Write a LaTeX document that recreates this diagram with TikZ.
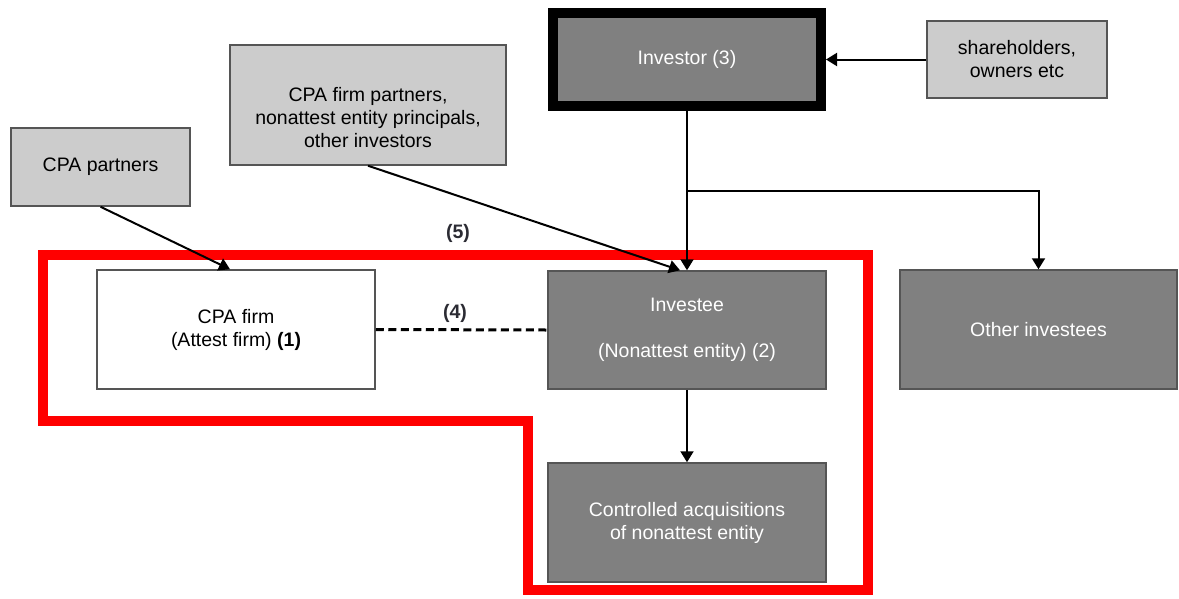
\documentclass[tikz,border=0pt]{standalone}
\usepackage{fontspec}
\setmainfont{Liberation Sans}
\usetikzlibrary{arrows.meta,calc}
\definecolor{lightbox}{HTML}{CCCCCC}
\definecolor{darkbox}{HTML}{808080}
\definecolor{boxline}{HTML}{555555}
\definecolor{redline}{HTML}{FF0000}
\definecolor{lbl}{HTML}{2B2B33}
\tikzset{
  base/.style={rectangle, inner sep=0pt, align=center, font=\fontsize{19.5}{23}\selectfont},
  lightnode/.style={base, fill=lightbox, draw=boxline, line width=1.5pt, text=black},
  darknode/.style={base, fill=darkbox, draw=boxline, line width=1.5pt, text=white},
  whitenode/.style={base, fill=white, draw=boxline, line width=1.5pt, text=black},
  txt/.style={base, text=black},
  arr/.style={line width=2pt, -{Triangle[length=11pt,width=13pt]}},
  dashline/.style={line width=3pt, dash pattern=on 8pt off 4.5pt},
  numlbl/.style={base, font=\fontsize{19.5}{23}\selectfont\bfseries, text=lbl},
  redframe/.style={draw=redline, line width=10pt, miter limit=10}
}
\begin{document}
\begin{tikzpicture}[x=1pt,y=-1pt]
\useasboundingbox (0,0) rectangle (1179,598);
% red outline
\draw[redframe] (43,255) -- (868,255) -- (868,590) -- (528,590) -- (528,421) -- (43,421) -- cycle;
% nodes
\node[darknode, draw=black, line width=10pt, minimum width=268pt, minimum height=93pt] (inv) at (687,59.5) {\raisebox{-2pt}{Investor (3)}};
\node[lightnode, minimum width=180pt, minimum height=77pt] (sh) at (1017,59.5) {shareholders,\\owners etc};
\node[lightnode, minimum width=276pt, minimum height=120pt] (cfp) at (368,105) {};
\node[txt] (cfpt) at (368,118) {CPA firm partners,\\nonattest entity principals,\\other investors};
\node[lightnode, minimum width=179pt, minimum height=78pt] (cp) at (100.5,167) {CPA partners};
\node[whitenode, minimum width=278pt, minimum height=119pt] (cpa) at (236,329.5) {CPA firm\\(Attest firm) \textbf{(1)}};
\node[darknode, minimum width=278pt, minimum height=118pt] (ie) at (687,330) {Investee\\[23pt](Nonattest entity) (2)};
\node[darknode, minimum width=278pt, minimum height=119pt] (ca) at (687,522.5) {Controlled acquisitions\\of nonattest entity};
\node[darknode, minimum width=277pt, minimum height=119pt] (oi) at (1038.5,329.5) {Other investees};
% labels
\node[numlbl] (l5) at (458,233) {(5)};
\node[numlbl] (l4) at (455,313) {(4)};
% connectors
\draw[arr] (sh.west) -- (inv.east);
\draw[arr] (inv.south) -- (ie.north);
\coordinate (br) at (687,191);
\draw[arr] (br) -| (oi.north);
\draw[arr] (cp.south) -- ([xshift=-6pt]cpa.north);
\draw[arr] (cfp.south) -- ([xshift=-7pt]ie.north);
\draw[arr] (ie.south) -- (ca.north);
\draw[dashline] (cpa.east) -- (ie.west);
\end{tikzpicture}
\end{document}
